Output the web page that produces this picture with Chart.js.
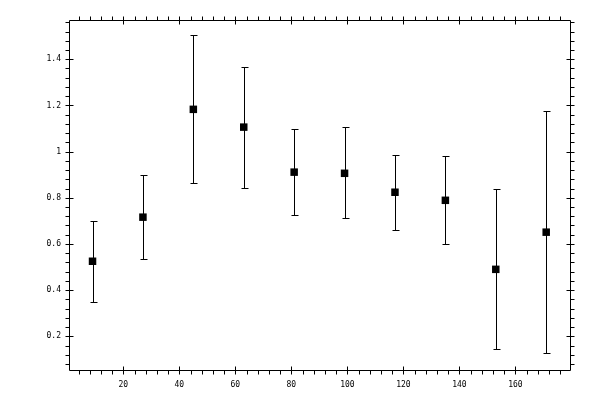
<!DOCTYPE html>
<html>
<head>
<meta charset="utf-8">
<script src="https://cdn.jsdelivr.net/npm/chart.js@4"></script>
<style>
  html, body { margin: 0; padding: 0; background: #fff; }
  #wrap { width: 600px; height: 400px; }
</style>
</head>
<body>
<div id="wrap"><canvas id="chart1"></canvas></div>
<script>
// bin centres and measured values with error bar ends
var binX = [9, 27, 45, 63, 81, 99, 117, 135, 153, 171];
var werte = [0.525, 0.716, 1.183, 1.106, 0.911, 0.906, 0.824, 0.789, 0.490, 0.651];
var oben = [0.701, 0.900, 1.504, 1.368, 1.097, 1.106, 0.984, 0.980, 0.837, 1.175];
var unten = [0.347, 0.534, 0.863, 0.841, 0.724, 0.711, 0.659, 0.599, 0.144, 0.126];

var xMin = 0.6, xMax = 179.5, xStep = 20, xMinor = 4;
var yMin = 0.054, yMax = 1.570, yStep = 0.2, yMinor = 0.04;

function getPunkte() {
  var punkte = new Array;
  for (let i = 0; i < binX.length; i++) {
    punkte.push({x: binX[i], y: werte[i]});
  }
  return punkte;
}

// error bars, drawn under the squares
const fehlerbalken = {
  id: 'fehlerbalken',
  beforeDatasetsDraw: function(chart) {
    var ctx = chart.ctx;
    var sx = chart.scales.x, sy = chart.scales.y;
    ctx.save();
    ctx.strokeStyle = '#000';
    ctx.lineWidth = 1;
    ctx.beginPath();
    for (let i = 0; i < binX.length; i++) {
      var px = Math.round(sx.getPixelForValue(binX[i])) + 0.5;
      var y1 = Math.round(sy.getPixelForValue(oben[i])) + 0.5;
      var y2 = Math.round(sy.getPixelForValue(unten[i])) + 0.5;
      ctx.moveTo(px, y1); ctx.lineTo(px, y2);
      ctx.moveTo(px - 3, y1); ctx.lineTo(px + 4, y1);
      ctx.moveTo(px - 3, y2); ctx.lineTo(px + 4, y2);
    }
    ctx.stroke();
    ctx.restore();
  }
};

// frame with ticks on all four sides
const rahmen = {
  id: 'rahmen',
  afterDraw: function(chart) {
    var ctx = chart.ctx;
    var a = chart.chartArea;
    var sx = chart.scales.x, sy = chart.scales.y;
    var l = Math.round(a.left) + 0.5, r = Math.round(a.right) + 0.5;
    var t = Math.round(a.top) + 0.5, b = Math.round(a.bottom) + 0.5;
    ctx.save();
    ctx.strokeStyle = '#000';
    ctx.lineWidth = 1;
    ctx.beginPath();
    ctx.rect(l, t, r - l, b - t);

    for (let k = Math.ceil(xMin / xMinor); k * xMinor <= xMax; k++) {
      var v = k * xMinor;
      var px = Math.round(sx.getPixelForValue(v)) + 0.5;
      var major = (k % (xStep / xMinor)) === 0;
      ctx.moveTo(px, b - (major ? 4 : 0)); ctx.lineTo(px, b + 4);
      ctx.moveTo(px, t + (major ? 4 : 0)); ctx.lineTo(px, t - 4);
    }
    for (let k = Math.ceil(yMin / yMinor - 1e-9); k * yMinor <= yMax + 1e-9; k++) {
      var v = k * yMinor;
      var py = Math.round(sy.getPixelForValue(v)) + 0.5;
      var major = (k % 5) === 0;
      ctx.moveTo(l + (major ? 4 : 0), py); ctx.lineTo(l - 4, py);
      ctx.moveTo(r - (major ? 4 : 0), py); ctx.lineTo(r + 4, py);
    }
    ctx.stroke();
    ctx.restore();
  }
};

const ctx1 = document.getElementById('chart1').getContext('2d');
const chart1 = new Chart(ctx1, {
  type: 'scatter',
  data: {
    datasets: [
      {
        label: 'werte',
        data: getPunkte(),
        pointStyle: 'rect',
        pointRadius: 5.3,
        pointHoverRadius: 5.3,
        backgroundColor: '#000',
        borderColor: '#000',
        borderWidth: 0
      }
    ]
  },
  options: {
    responsive: true,
    maintainAspectRatio: false,
    animation: false,
    devicePixelRatio: 1,
    layout: { padding: { top: 20, right: 30, left: 0, bottom: 0 } },
    plugins: {
      legend: { display: false },
      tooltip: { enabled: false }
    },
    scales: {
      x: {
        type: 'linear',
        min: xMin,
        max: xMax,
        grid: { display: false, drawTicks: false },
        border: { display: false },
        ticks: {
          stepSize: xStep,
          includeBounds: false,
          padding: 10,
          color: '#000',
          font: { family: 'DejaVu Sans Mono', size: 8 },
          callback: function(v) { return String(Math.round(v)); }
        },
        afterFit: function(scale) { scale.height = 30; }
      },
      y: {
        type: 'linear',
        min: yMin,
        max: yMax,
        grid: { display: false, drawTicks: false },
        border: { display: false },
        ticks: {
          stepSize: yStep,
          includeBounds: false,
          padding: 8,
          color: '#000',
          font: { family: 'DejaVu Sans Mono', size: 8 },
          callback: function(v) { return String(+v.toFixed(2)); }
        },
        afterFit: function(scale) { scale.width = 69; }
      }
    }
  },
  plugins: [fehlerbalken, rahmen]
});
</script>
</body>
</html>
